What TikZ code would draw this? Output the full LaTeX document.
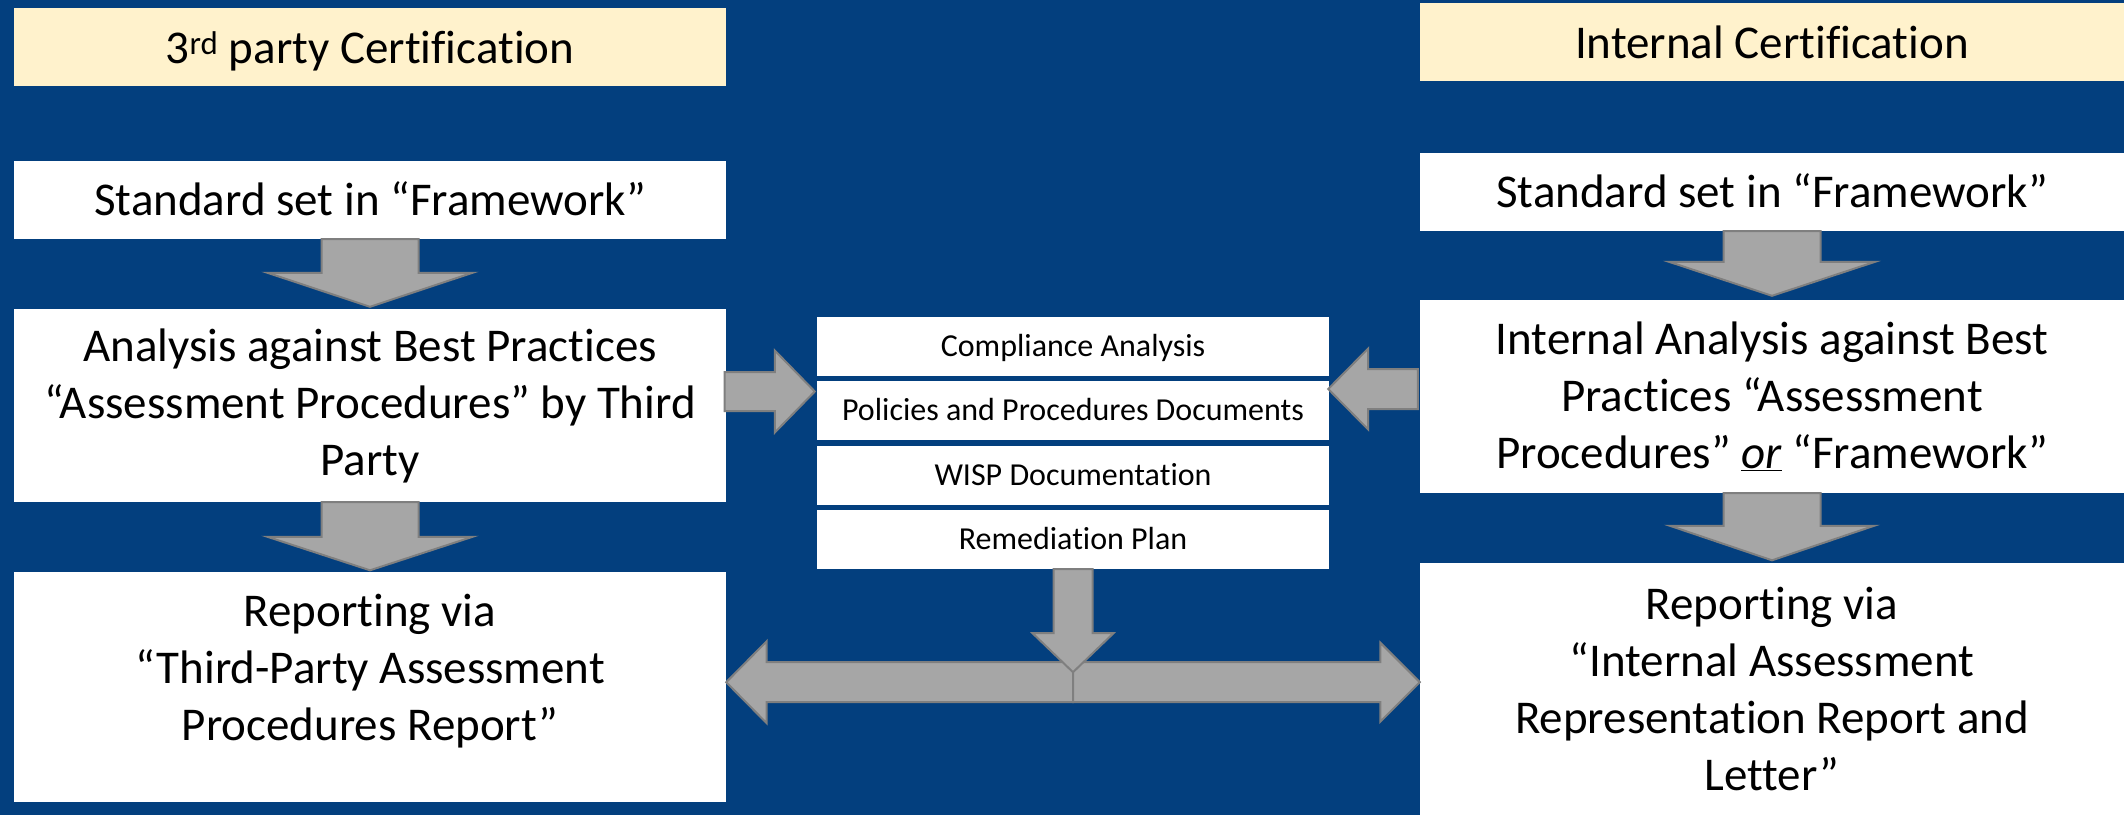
\documentclass[tikz,border=0pt]{standalone}
\usepackage{fontspec}
\setmainfont{Carlito}[Ligatures={NoCommon}]
\usetikzlibrary{calc}
\definecolor{bgblue}{RGB}{3,63,126}
\definecolor{hdr}{RGB}{255,242,204}
\definecolor{arrfill}{RGB}{166,166,166}
\definecolor{arrline}{RGB}{127,127,127}
\newcommand\bigfont{\fontsize{47}{57}\selectfont}
\newcommand\smallfont{\fontsize{32}{38}\selectfont}
% down block arrow: #1 start, #2 tip, #3 shaft half width, #4 head half width, #5 head length
\newcommand\downblk[5]{%
  \draw[blk] ($(#1)+(-#3,0)$) -- ($(#1)+(#3,0)$) -- ($(#2)+(#3,-#5)$) -- ($(#2)+(#4,-#5)$) -- (#2)
    -- ($(#2)+(-#4,-#5)$) -- ($(#2)+(-#3,-#5)$) -- cycle;}
\newcommand\rightblk[5]{%
  \draw[blk] ($(#1)+(0,-#3)$) -- ($(#2)+(-#5,-#3)$) -- ($(#2)+(-#5,-#4)$) -- (#2)
    -- ($(#2)+(-#5,#4)$) -- ($(#2)+(-#5,#3)$) -- ($(#1)+(0,#3)$) -- cycle;}
\newcommand\leftblk[5]{%
  \draw[blk] ($(#1)+(0,-#3)$) -- ($(#2)+(#5,-#3)$) -- ($(#2)+(#5,-#4)$) -- (#2)
    -- ($(#2)+(#5,#4)$) -- ($(#2)+(#5,#3)$) -- ($(#1)+(0,#3)$) -- cycle;}
\begin{document}
\begin{tikzpicture}[x=1pt,y=-1pt,
  box/.style={rectangle, fill=white, inner sep=0pt, align=center, text=black, font=\bigfont},
  hbox/.style={box, fill=hdr, text depth=0pt},
  mbox/.style={box, font=\smallfont, minimum width=512pt, minimum height=59pt, text height=20.6pt, text depth=0pt},
  txt/.style={inner sep=0pt, align=center, text=black, font=\bigfont},
  blk/.style={fill=arrfill, draw=arrline, line width=2pt}]
\fill[bgblue] (0,0) rectangle (2124,815);
\useasboundingbox (0,0) rectangle (2124,815);

% left column
\node[hbox, minimum width=712pt, minimum height=78pt] (lhead) at (370,47) {3\textsuperscript{rd} party Certification};
\node[box, minimum width=712pt, minimum height=78pt, text height=30pt, text depth=0pt] (lstd) at (370,200) {Standard set in “Framework”};
\node[box, minimum width=712pt, minimum height=193pt] (lana) at (370,405.5) {Analysis against Best Practices\\“Assessment Procedures” by Third\\Party};
\node[box, minimum width=712pt, minimum height=230pt] (lrep) at (370,687) {};
\node[txt] (lreptxt) at (370,671) {Reporting via\\“Third-Party Assessment\\Procedures Report”};

% right column
\node[hbox, minimum width=704pt, minimum height=78pt] (rhead) at (1772,42) {Internal Certification};
\node[box, minimum width=704pt, minimum height=78pt, text height=30pt, text depth=0pt] (rstd) at (1772,192) {Standard set in “Framework”};
\node[box, minimum width=704pt, minimum height=193pt] (rana) at (1772,396.5) {Internal Analysis against Best\\Practices “Assessment\\Procedures” \underline{\textit{or}} “Framework”};
\node[box, minimum width=704pt, minimum height=252pt] (rrep) at (1772,689) {Reporting via\\“Internal Assessment\\Representation Report and\\Letter”};

% middle stack
\node[mbox] (m1) at (1073,346.5) {Compliance Analysis};
\node[mbox] (m2) at (1073,410.5) {Policies and Procedures Documents};
\node[mbox] (m3) at (1073,475.5) {WISP Documentation};
\node[mbox] (m4) at (1073,539.5) {Remediation Plan};

% column arrows
\coordinate (a1t) at ($(lana.north)+(0,-2)$);
\downblk{lstd.south}{a1t}{48.5}{102.5}{34}
\coordinate (a2t) at ($(lrep.north)+(0,-1.5)$);
\downblk{lana.south}{a2t}{48.5}{102.5}{33.5}
\coordinate (a3t) at ($(rana.north)+(0,-4)$);
\downblk{rstd.south}{a3t}{48.5}{103}{34}
\coordinate (a4t) at ($(rrep.north)+(0,-2.5)$);
\downblk{rana.south}{a4t}{48.5}{102}{34.5}

% arrows into the middle stack
\coordinate (h1s) at ($(lana.east)+(-1.5,-14)$);
\coordinate (h1t) at ($(m2.west |- h1s)+(-2,0)$);
\rightblk{h1s}{h1t}{19.5}{41}{40}
\coordinate (h2s) at ($(rana.west)+(-2,-7.5)$);
\coordinate (h2t) at ($(m2.east |- h2s)+(-1,0)$);
\leftblk{h2s}{h2t}{20}{40.5}{40}

% double arrow to the reports
\coordinate (sj) at ($(m4.south)+(0,113)$);
\coordinate (dl) at (lrep.east |- sj);
\coordinate (dr) at (rrep.west |- sj);
\leftblk{sj}{dl}{20}{41}{40.5}
\rightblk{sj}{dr}{20}{39.5}{39.5}
\coordinate (dt) at ($(sj)+(0,-10)$);
\downblk{m4.south}{dt}{19.5}{40.5}{39}
\end{tikzpicture}
\end{document}
